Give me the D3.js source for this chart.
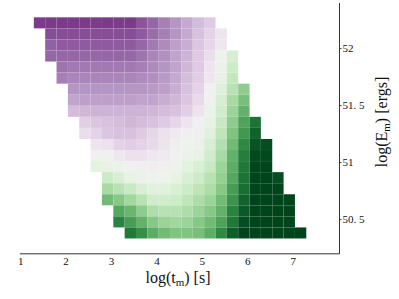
<!DOCTYPE html>
<html>
<head>
<meta charset="utf-8">
<script src="https://cdn.jsdelivr.net/npm/d3@7"></script>
<style>
body { margin: 0; background: #fff; }
text { font-family: "Liberation Serif", "DejaVu Serif", serif; fill: #111; }
</style>
</head>
<body>
<script>
var w = 399, h = 299;

// grid of the map: log(t_m) cell edges start at 1.3, step 0.25; log(E_m) rows from 50.33, step 0.097
var tStart = 1.3, tStep = 0.25;
var eStart = 50.33, eStep = 0.097;

var xTicks = [1, 2, 3, 4, 5, 6, 7];
var yTicks = [50.5, 51, 51.5, 52];

// first column of each row, top row first
var rowStart = [0, 1, 1, 1, 2, 2, 3, 3, 3, 4, 4, 5, 5, 5, 6, 6, 6, 7, 7, 8];

// colour value of each cell (0 = purple, 1 = green), top row first
var rowValues = [
	[0.12, 0.12, 0.12, 0.12, 0.12, 0.12, 0.12, 0.12, 0.12, 0.16, 0.19, 0.23, 0.27, 0.31, 0.35, 0.38],
	[0.15, 0.15, 0.15, 0.15, 0.15, 0.15, 0.15, 0.15, 0.17, 0.20, 0.23, 0.27, 0.31, 0.36, 0.40, 0.45],
	[0.18, 0.17, 0.17, 0.17, 0.17, 0.17, 0.17, 0.17, 0.19, 0.22, 0.25, 0.29, 0.32, 0.37, 0.41, 0.46],
	[0.19, 0.19, 0.19, 0.19, 0.19, 0.19, 0.19, 0.19, 0.21, 0.24, 0.26, 0.30, 0.33, 0.38, 0.43, 0.52, 0.60],
	[0.21, 0.22, 0.22, 0.22, 0.22, 0.22, 0.22, 0.23, 0.25, 0.27, 0.30, 0.34, 0.38, 0.45, 0.53, 0.62],
	[0.23, 0.24, 0.24, 0.24, 0.24, 0.24, 0.24, 0.25, 0.26, 0.28, 0.31, 0.35, 0.39, 0.46, 0.55, 0.64],
	[0.27, 0.27, 0.27, 0.27, 0.27, 0.27, 0.27, 0.28, 0.29, 0.32, 0.36, 0.40, 0.50, 0.58, 0.66, 0.73],
	[0.30, 0.29, 0.29, 0.29, 0.29, 0.29, 0.30, 0.30, 0.32, 0.34, 0.37, 0.42, 0.51, 0.60, 0.69, 0.76],
	[0.35, 0.34, 0.33, 0.33, 0.33, 0.33, 0.33, 0.34, 0.35, 0.36, 0.39, 0.45, 0.53, 0.61, 0.71, 0.79],
	[0.39, 0.37, 0.36, 0.35, 0.34, 0.35, 0.36, 0.38, 0.41, 0.45, 0.50, 0.55, 0.63, 0.73, 0.82, 0.91],
	[0.43, 0.40, 0.37, 0.36, 0.36, 0.38, 0.41, 0.44, 0.47, 0.49, 0.50, 0.57, 0.65, 0.75, 0.84, 0.94],
	[0.45, 0.44, 0.40, 0.39, 0.40, 0.42, 0.45, 0.49, 0.51, 0.53, 0.59, 0.67, 0.77, 0.87, 0.97, 0.98],
	[0.50, 0.50, 0.46, 0.44, 0.44, 0.46, 0.47, 0.50, 0.53, 0.55, 0.61, 0.69, 0.79, 0.89, 0.99, 0.99],
	[0.56, 0.55, 0.53, 0.50, 0.49, 0.48, 0.49, 0.52, 0.56, 0.59, 0.63, 0.71, 0.80, 0.90, 1.00, 1.00],
	[0.62, 0.59, 0.55, 0.53, 0.52, 0.52, 0.55, 0.59, 0.62, 0.66, 0.72, 0.81, 0.91, 1.00, 1.00, 0.98],
	[0.69, 0.66, 0.63, 0.59, 0.57, 0.57, 0.59, 0.62, 0.65, 0.68, 0.74, 0.83, 0.92, 1.00, 1.00, 1.00],
	[0.77, 0.74, 0.70, 0.66, 0.61, 0.61, 0.62, 0.65, 0.68, 0.71, 0.77, 0.85, 0.94, 1.00, 1.00, 1.00, 1.00],
	[0.81, 0.78, 0.73, 0.68, 0.66, 0.66, 0.68, 0.71, 0.74, 0.79, 0.88, 0.96, 1.00, 1.00, 1.00, 1.00],
	[0.88, 0.83, 0.79, 0.74, 0.71, 0.70, 0.71, 0.74, 0.77, 0.82, 0.90, 0.98, 1.00, 1.00, 1.00, 1.00],
	[0.90, 0.86, 0.80, 0.77, 0.75, 0.75, 0.76, 0.80, 0.87, 0.95, 1.00, 1.00, 1.00, 1.00, 1.00, 1.00]
];

var svg = d3.select("body").append("svg").attr("width", w).attr("height", h);

var x = d3.scaleLinear().domain([0.98, 8.02]).range([19.3, 339]);
var y = d3.scaleLinear().domain([50.2, 52.4]).range([253.3, 2.5]);
var color = d3.scaleSequential(d3.interpolatePRGn).domain([0, 1]);

// flatten rows into cells
var cells = [];
var nRows = rowValues.length;
rowValues.forEach(function (vals, r) {
	var e0 = eStart + (nRows - 1 - r) * eStep;
	vals.forEach(function (v, k) {
		var t0 = tStart + (rowStart[r] + k) * tStep;
		cells.push({ t0: t0, t1: t0 + tStep, e0: e0, e1: e0 + eStep, v: v });
	});
});

svg.append("g").selectAll("rect")
	.data(cells)
	.enter().append("rect")
	.attr("x", function (d) { return x(d.t0); })
	.attr("y", function (d) { return y(d.e1); })
	.attr("width", function (d) { return x(d.t1) - x(d.t0); })
	.attr("height", function (d) { return y(d.e0) - y(d.e1); })
	.attr("fill", function (d) { return color(d.v); })
	.attr("stroke", "#fff")
	.attr("stroke-opacity", 0.05)
	.attr("stroke-width", 0.5);

// bottom axis, no ticks
var gx = svg.append("g")
	.attr("transform", "translate(0," + y.range()[0] + ")")
	.call(d3.axisBottom(x).tickValues(xTicks).tickSize(0).tickPadding(4).tickFormat(d3.format("d")));
gx.select(".domain").attr("stroke", "#333");
gx.selectAll("text").attr("font-size", 11).attr("font-family", "Liberation Serif").attr("fill", "#111");

// right axis
var fmtY = function (d) { return Number.isInteger(d) ? String(d) : String(d).replace(".", ". "); };
var gy = svg.append("g")
	.attr("transform", "translate(" + x.range()[1] + ",0)")
	.call(d3.axisRight(y).tickValues(yTicks).tickSizeInner(2.5).tickSizeOuter(0).tickPadding(1).tickFormat(fmtY));
gy.select(".domain").attr("stroke", "#333");
gy.selectAll(".tick line").attr("stroke", "#333");
gy.selectAll("text").attr("font-size", 11).attr("font-family", "Liberation Serif").attr("fill", "#111")
	.style("white-space", "pre");

// axis titles
var xt = svg.append("text")
	.attr("x", 178).attr("y", 283)
	.attr("text-anchor", "middle")
	.attr("font-size", 16);
xt.append("tspan").text("log(t");
xt.append("tspan").attr("font-size", 11).attr("dy", 3).text("m");
xt.append("tspan").attr("dy", -3).text(") [s]");

var yt = svg.append("text")
	.attr("transform", "translate(387,122) rotate(-90)")
	.attr("text-anchor", "middle")
	.attr("font-size", 16);
yt.append("tspan").text("log(E");
yt.append("tspan").attr("font-size", 11).attr("dy", 3).text("m");
yt.append("tspan").attr("dy", -3).text(") [ergs]");
</script>
</body>
</html>
